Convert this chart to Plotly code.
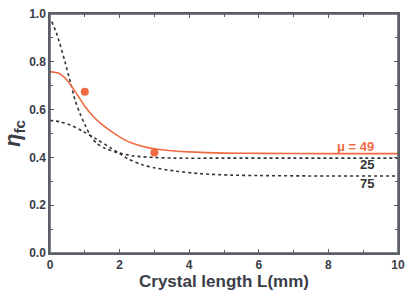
import plotly.graph_objects as go

# Data
L49 = [0.0, 0.25, 0.5, 0.75, 1.0, 1.25, 1.5, 1.75, 2.0, 2.25, 2.5, 2.75, 3.0, 3.5, 4.0, 5.0, 6.0, 8.0, 10.0]
eta49 = [0.759, 0.752, 0.722, 0.670, 0.614, 0.570, 0.537, 0.510, 0.486, 0.466, 0.453, 0.443, 0.436, 0.428, 0.423, 0.418, 0.417, 0.416, 0.416]

L25 = [0.05, 0.19, 0.43, 0.594, 0.72, 0.86, 1.006, 1.15, 1.34, 1.58, 1.92, 2.4, 2.97, 3.59, 5.0, 7.0, 10.0]
eta25 = [0.968, 0.919, 0.800, 0.710, 0.640, 0.584, 0.536, 0.494, 0.459, 0.438, 0.421, 0.406, 0.400, 0.397, 0.397, 0.397, 0.397]

L75 = [0.0, 0.29, 0.575, 0.96, 1.34, 1.72, 2.01, 2.25, 2.63, 3.02, 3.59, 4.31, 5.2, 6.03, 8.0, 10.0]
eta75 = [0.555, 0.549, 0.536, 0.508, 0.476, 0.442, 0.415, 0.393, 0.370, 0.356, 0.343, 0.332, 0.326, 0.324, 0.322, 0.322]

exp_L = [1.0, 3.0]
exp_eta = [0.675, 0.420]

labels_text = ["μ = 49", "25", "75"]
labels_x = [9.38, 9.38, 9.38]
labels_y = [0.445, 0.37, 0.29]

ORANGE = "#ef6a42"
DARK = "#333333"
AXIS = "#5a5e68"
TEXT = "#3a3d48"
FONT = "Liberation Sans"

fig = go.Figure()
fig.add_trace(go.Scatter(x=L75, y=eta75, mode="lines", line=dict(color=DARK, width=1.6, dash="dot", shape="spline", smoothing=0.8), showlegend=False))
fig.add_trace(go.Scatter(x=L25, y=eta25, mode="lines", line=dict(color=DARK, width=1.6, dash="dot", shape="spline", smoothing=0.8), showlegend=False))
fig.add_trace(go.Scatter(x=L49, y=eta49, mode="lines", line=dict(color=ORANGE, width=1.6, shape="spline", smoothing=0.6), showlegend=False))
fig.add_trace(go.Scatter(x=exp_L, y=exp_eta, mode="markers", marker=dict(color=ORANGE, size=8), showlegend=False))

colors = [ORANGE, DARK, DARK]
for t, x, y, c in zip(labels_text, labels_x, labels_y, colors):
    fig.add_annotation(x=x, y=y, text=t, showarrow=False, xanchor="right", yanchor="middle",
                       font=dict(family=FONT, size=13, color=c, weight="bold"))

# frame around the plotting area
fig.add_shape(type="rect", xref="paper", yref="paper", x0=0, x1=1, y0=0, y1=1,
              line=dict(color=AXIS, width=1.5), layer="above")

axis_common = dict(
    showgrid=False, zeroline=False, showline=True, linecolor=AXIS, linewidth=1.5,
    ticks="inside", ticklen=4, tickwidth=1.2, tickcolor=AXIS, mirror="ticks",
    automargin=False,
    tickfont=dict(family=FONT, size=12, color=TEXT, weight="bold"),
)

fig.update_xaxes(range=[0, 10], dtick=2, tick0=0,
                 minor=dict(dtick=1, ticks="inside", ticklen=3, tickcolor=AXIS, tickwidth=1.2),
                 title=dict(text="Crystal length L(mm)", standoff=2,
                            font=dict(family=FONT, size=17, color=TEXT, weight="bold")),
                 **axis_common)
fig.update_yaxes(range=[0, 1.0], dtick=0.2, tick0=0, tickformat=".1f",
                 minor=dict(dtick=0.1, ticks="inside", ticklen=3, tickcolor=AXIS, tickwidth=1.2),
                 title=dict(text="<i>η</i><sub>fc</sub>", standoff=2,
                            font=dict(family=FONT, size=22, color=TEXT, weight="bold")),
                 **axis_common)

fig.update_layout(width=409, height=300, margin=dict(l=50, r=11, t=14, b=47),
                  paper_bgcolor="white", plot_bgcolor="white")
fig.write_html("out.html", config={"displayModeBar": False},
               post_script="document.body.style.margin='0';")
